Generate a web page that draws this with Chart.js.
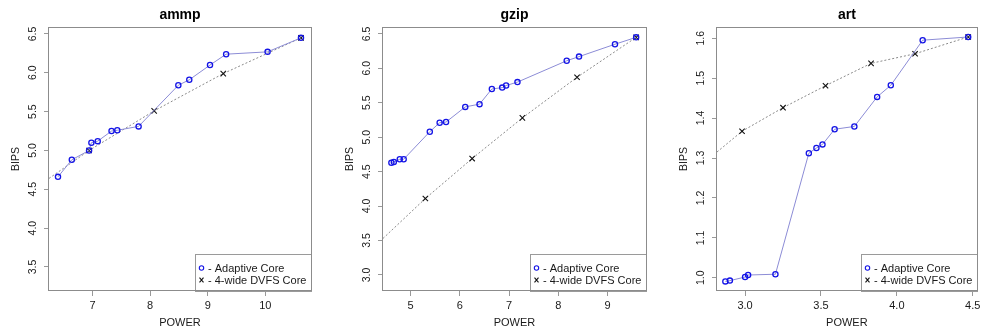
<!DOCTYPE html>
<html>
<head>
<meta charset="utf-8">
<script src="https://cdn.jsdelivr.net/npm/chart.js@4.4.1/dist/chart.umd.min.js"></script>
<style>
  html, body { margin: 0; padding: 0; background: #fff; }
  #wrap { position: relative; width: 982px; height: 331px; overflow: hidden; }
  #wrap canvas { position: absolute; top: 0; }
</style>
</head>
<body>
<div id="wrap">
  <canvas id="ammpChart" width="327" height="331" style="left:0"></canvas>
  <canvas id="gzipChart" width="321" height="331" style="left:334px"></canvas>
  <canvas id="artChart" width="314" height="331" style="left:668px"></canvas>
</div>
<script>
const FONT = '"Liberation Sans", Arial, sans-serif';
const legendLabels = ["- Adaptive Core", "- 4-wide DVFS Core"];

// ammp
const ammpAdaptivePower = [6.40, 6.64, 6.94, 6.98, 7.09, 7.33, 7.43, 7.80, 8.49, 8.68, 9.04, 9.32, 10.04, 10.62];
const ammpAdaptiveBips  = [4.66, 4.88, 5.00, 5.10, 5.12, 5.25, 5.26, 5.31, 5.84, 5.91, 6.10, 6.24, 6.27, 6.45];
const ammpDvfsPower = [6.244, 6.94, 8.07, 9.27, 10.62];
const ammpDvfsBips  = [4.64, 5.00, 5.51, 5.99, 6.45];
const ammpXTicks = [7, 8, 9, 10];
const ammpYTicks = [3.5, 4.0, 4.5, 5.0, 5.5, 6.0, 6.5];

// gzip
const gzipAdaptivePower = [4.61, 4.66, 4.78, 4.86, 5.39, 5.59, 5.72, 6.11, 6.40, 6.65, 6.86, 6.94, 7.17, 8.17, 8.42, 9.15, 9.58];
const gzipAdaptiveBips  = [4.63, 4.64, 4.68, 4.68, 5.08, 5.21, 5.22, 5.44, 5.48, 5.70, 5.72, 5.75, 5.80, 6.11, 6.17, 6.35, 6.45];
const gzipDvfsPower = [4.44, 5.30, 6.25, 7.27, 8.38, 9.58];
const gzipDvfsBips  = [3.53, 4.11, 4.69, 5.28, 5.87, 6.45];
const gzipXTicks = [5, 6, 7, 8, 9];
const gzipYTicks = [3.0, 3.5, 4.0, 4.5, 5.0, 5.5, 6.0, 6.5];

// art
const artAdaptivePower = [2.87, 2.90, 3.00, 3.02, 3.20, 3.42, 3.47, 3.51, 3.59, 3.72, 3.87, 3.96, 4.17, 4.47];
const artAdaptiveBips  = [0.991, 0.993, 1.002, 1.007, 1.009, 1.312, 1.325, 1.334, 1.372, 1.379, 1.453, 1.482, 1.595, 1.603];
const artDvfsPower = [2.815, 2.98, 3.25, 3.53, 3.83, 4.12, 4.47];
const artDvfsBips  = [1.315, 1.367, 1.426, 1.481, 1.537, 1.561, 1.603];
const artXTicks = [3.0, 3.5, 4.0, 4.5];
const artYTicks = [1.0, 1.1, 1.2, 1.3, 1.4, 1.5, 1.6];

const toPoints = (xs, ys) => xs.map((x, i) => ({ x, y: ys[i] }));

// R-style box, rotated y labels and bottom-right legend
const rStylePlugin = {
  id: "rStyle",
  afterDatasetsDraw(chart) {
    const { ctx, chartArea: a } = chart;
    const yScale = chart.scales.y;
    ctx.save();

    // y tick labels, rotated like R's default las=0
    ctx.fillStyle = "#1a1a1a";
    ctx.font = "10.5px " + FONT;
    ctx.textAlign = "center";
    ctx.textBaseline = "middle";
    yScale.ticks.forEach(t => {
      const py = yScale.getPixelForValue(t.value);
      ctx.save();
      ctx.translate(a.left - 16, py);
      ctx.rotate(-Math.PI / 2);
      ctx.fillText(t.value.toFixed(1), 0, 0);
      ctx.restore();
    });

    // legend
    const w = 116, h = 37;
    const x0 = Math.round(a.right) - w, y0 = Math.round(a.bottom) - h;
    ctx.fillStyle = "#fff";
    ctx.fillRect(x0, y0, w, h);
    ctx.strokeStyle = "#9a9a9a";
    ctx.lineWidth = 1;
    ctx.strokeRect(x0 + 0.5, y0 + 0.5, w, h);
    ctx.font = "11px " + FONT;
    ctx.textAlign = "left";
    chart.data.datasets.forEach((ds, i) => {
      const ly = y0 + 14 + i * 12;
      ctx.strokeStyle = ds.pointBorderColor;
      ctx.lineWidth = 1.1;
      ctx.beginPath();
      if (ds.pointStyle === "circle") {
        ctx.arc(x0 + 6.5, ly, 2.2, 0, Math.PI * 2);
      } else {
        ctx.moveTo(x0 + 4.5, ly - 2.3); ctx.lineTo(x0 + 8.5, ly + 2.3);
        ctx.moveTo(x0 + 8.5, ly - 2.3); ctx.lineTo(x0 + 4.5, ly + 2.3);
      }
      ctx.stroke();
      ctx.fillStyle = "#1a1a1a";
      ctx.fillText(ds.label, x0 + 13, ly + 0.5);
    });

    // plot box
    ctx.strokeStyle = "#8c8c8c";
    ctx.lineWidth = 1;
    ctx.strokeRect(Math.round(a.left) - 0.5, Math.round(a.top) + 0.5,
      Math.round(a.right - a.left) + 1, Math.round(a.bottom - a.top) - 1);
    ctx.restore();
  }
};

function makePanel(id, title, adaptive, dvfs, xMin, xMax, yMin, yMax, xTicks, yTicks, xFmt, rightPad) {
  const dvfsRadius = dvfs.map((p, i) => (i === 0 ? 0 : 3.8));
  return new Chart(document.getElementById(id), {
    type: "scatter",
    data: {
      datasets: [
        {
          label: legendLabels[0],
          data: adaptive,
          showLine: true,
          borderColor: "#8c8cd6",
          borderWidth: 1,
          pointStyle: "circle",
          pointRadius: 2.6,
          pointBorderWidth: 1.3,
          pointBorderColor: "#1414e6",
          pointBackgroundColor: "rgba(0,0,0,0)"
        },
        {
          label: legendLabels[1],
          data: dvfs,
          showLine: true,
          borderColor: "#8a8a8a",
          borderWidth: 1,
          borderDash: [2, 2],
          pointStyle: "crossRot",
          pointRadius: dvfsRadius,
          pointBorderWidth: 1.1,
          pointBorderColor: "#111"
        }
      ]
    },
    plugins: [rStylePlugin],
    options: {
      responsive: false,
      animation: false,
      events: [],
      layout: { padding: { left: 0, right: rightPad, top: 0, bottom: 0 } },
      plugins: {
        legend: { display: false },
        tooltip: { enabled: false },
        title: {
          display: true,
          text: title,
          fullSize: false,
          color: "#000",
          font: { family: FONT, size: 14, weight: "bold", lineHeight: 1.2 },
          padding: { top: 7, bottom: 3.2 }
        }
      },
      scales: {
        x: {
          type: "linear",
          min: xMin,
          max: xMax,
          afterBuildTicks: s => { s.ticks = xTicks.map(v => ({ value: v })); },
          afterFit: s => { s.height = 40; s.paddingLeft = 0; s.paddingRight = 0; },
          ticks: {
            color: "#1a1a1a",
            font: { family: FONT, size: 11 },
            padding: 3,
            maxRotation: 0,
            autoSkip: false,
            callback: v => xFmt(v)
          },
          grid: { drawOnChartArea: false, drawTicks: true, tickLength: 5, color: "#999" },
          border: { display: false },
          title: {
            display: true,
            text: "POWER",
            color: "#1a1a1a",
            font: { family: FONT, size: 11 },
            padding: { top: 1.5, bottom: 1.5 }
          }
        },
        y: {
          type: "linear",
          min: yMin,
          max: yMax,
          afterBuildTicks: s => { s.ticks = yTicks.map(v => ({ value: v })); },
          afterFit: s => { s.width = 49; s.paddingTop = 0; s.paddingBottom = 0; },
          ticks: { display: false },
          grid: { drawOnChartArea: false, drawTicks: true, tickLength: 5, color: "#999" },
          border: { display: false },
          title: {
            display: true,
            text: "BIPS",
            color: "#1a1a1a",
            font: { family: FONT, size: 10.5 },
            padding: { top: 10, bottom: 10 }
          }
        }
      }
    }
  });
}

makePanel("ammpChart", "ammp",
  toPoints(ammpAdaptivePower, ammpAdaptiveBips), toPoints(ammpDvfsPower, ammpDvfsBips),
  6.244, 10.794, 3.19, 6.59, ammpXTicks, ammpYTicks, v => String(v), 16);

makePanel("gzipChart", "gzip",
  toPoints(gzipAdaptivePower, gzipAdaptiveBips), toPoints(gzipDvfsPower, gzipDvfsBips),
  4.44, 9.78, 2.767, 6.60, gzipXTicks, gzipYTicks, v => String(v), 9);

makePanel("artChart", "art",
  toPoints(artAdaptivePower, artAdaptiveBips), toPoints(artDvfsPower, artDvfsBips),
  2.815, 4.526, 0.967, 1.628, artXTicks, artYTicks, v => v.toFixed(1), 3);
</script>
</body>
</html>
